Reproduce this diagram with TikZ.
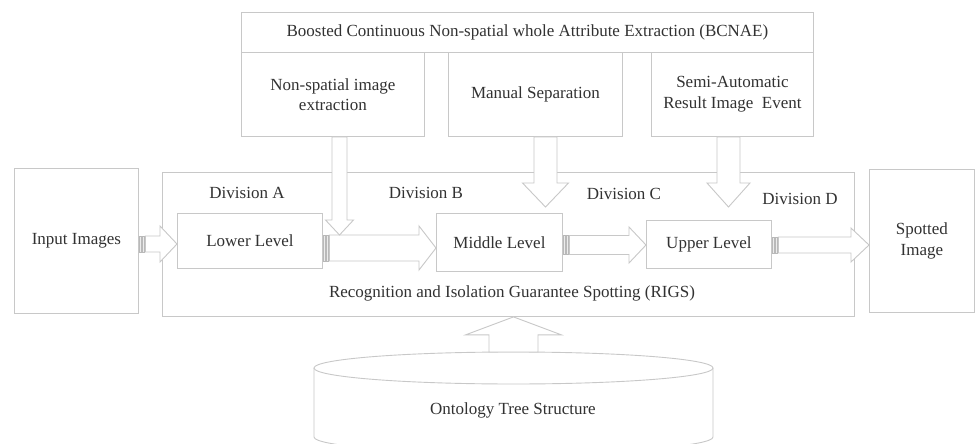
\documentclass[tikz,border=0pt]{standalone}
\usepackage{fontspec}
\setmainfont{Liberation Serif}
\usetikzlibrary{calc}

\definecolor{edgegray}{RGB}{200,200,200}
\definecolor{stripegray}{RGB}{185,185,185}
\definecolor{textgray}{RGB}{50,50,50}

\tikzset{
  diagfont/.style={font=\fontsize{17}{20.5}\selectfont, text=textgray},
  box/.style={draw=edgegray, line width=0.9pt, fill=white, diagfont,
              align=center, inner sep=0pt, anchor=north west},
  caption/.style={diagfont, inner sep=0pt, align=center},
  blockarrow/.style={draw=edgegray, line width=0.9pt, fill=white, line join=miter},
  stripe/.style={draw=stripegray, line width=0.5pt, fill=edgegray!35},
}

% horizontal striped block arrow: start, tip, shaft half-height, head half-height, head length
\newcommand\hstripe[5]{%
  \path[blockarrow] let \p1=(#1), \p2=(#2) in
    (\x1+6.5pt,\y1+#3) -- (\x2-#5,\y1+#3) -- (\x2-#5,\y1+#4)
      -- (\x2,\y1) -- (\x2-#5,\y1-#4) -- (\x2-#5,\y1-#3) -- (\x1+6.5pt,\y1-#3) -- cycle;
  \path[stripe] let \p1=(#1) in
    (\x1+0.8pt,\y1-#3) rectangle (\x1+2.4pt,\y1+#3)
    (\x1+3.6pt,\y1-#3) rectangle (\x1+5.2pt,\y1+#3);}

% vertical block arrow: start, tip, shaft half-width, head half-width, signed head length
\newcommand\vblock[5]{%
  \path[blockarrow] let \p1=(#1), \p2=(#2) in
    (\x1-#3,\y1) -- (\x2-#3,\y2+#5) -- (\x2-#4,\y2+#5) -- (\x2,\y2)
      -- (\x2+#4,\y2+#5) -- (\x2+#3,\y2+#5) -- (\x1+#3,\y1) -- cycle;}

\begin{document}
\begin{tikzpicture}[x=1pt,y=-1pt]
\useasboundingbox (0,0) rectangle (975,444);
\fill[white] (0,0) rectangle (975,444);

% outer RIGS frame
\node[box, minimum width=692pt, minimum height=144pt] (rigs) at (162,172) {};

% BCNAE block and its three parts
\node[box, minimum width=572pt, minimum height=40pt] (bcnae) at (241,12)
  {Boosted Continuous Non-spatial whole Attribute Extraction (BCNAE)};
\node[box, minimum width=183pt, minimum height=84pt] (nonsp) at (241,52)
  {Non-spatial image\\extraction};
\node[box, minimum width=174pt, minimum height=84pt] (manual) at (448,52)
  {Manual Separation};
\node[box, minimum width=162pt, minimum height=84pt] (semi) at (651,52)
  {Semi-Automatic\\Result Image\ \ Event};

% input / output
\node[box, minimum width=124pt, minimum height=145pt] (input) at (14,168) {Input Images};
\node[box, minimum width=105pt, minimum height=143pt] (spotted) at (869,169) {Spotted\\Image};

% levels
\node[box, minimum width=145pt, minimum height=55pt] (lower) at (177,213) {Lower Level};
\node[box, minimum width=126pt, minimum height=58pt] (middle) at (436,213) {Middle Level};
\node[box, minimum width=125pt, minimum height=48pt] (upper) at (646,220) {Upper Level};

% ontology store
\coordinate (cyltop) at (513.5,352);
\path[draw=edgegray, line width=0.9pt, fill=white]
  (314,368) -- (314,437) arc[start angle=180, end angle=360, x radius=199.5pt, y radius=16pt]
  -- (713,368);
\draw[edgegray, line width=0.9pt, fill=white] (513.5,368) ellipse[x radius=199.5pt, y radius=16pt];
\node[caption] (onto) at (513,410) {Ontology Tree Structure};

% arrow tips
\coordinate (tipA) at (339.5,235);
\coordinate (tipB) at (545.5,207);
\coordinate (tipC) at (728.5,207);

% flow along the levels
\hstripe{input.east |- 0,244}{lower.west |- 0,244}{8pt}{18pt}{17pt}
\hstripe{lower.east |- 0,248}{middle.west |- 0,248}{13pt}{22pt}{17pt}
\hstripe{middle.east |- 0,245}{upper.west |- 0,245}{9.5pt}{18pt}{17pt}
\hstripe{upper.east |- 0,245}{spotted.west |- 0,245}{8pt}{17pt}{18pt}

% BCNAE inputs into the divisions
\vblock{nonsp.south -| tipA}{tipA}{7.5pt}{14pt}{15pt}
\vblock{manual.south -| tipB}{tipB}{11.5pt}{23pt}{24pt}
\vblock{semi.south -| tipC}{tipC}{11.5pt}{21.5pt}{24pt}

% ontology feeding RIGS
\vblock{cyltop}{rigs.south -| cyltop}{24.5pt}{48pt}{-18pt}

% labels inside RIGS
\node[caption] (divA) at (247,193) {Division A};
\node[caption] (divB) at (426,193) {Division B};
\node[caption] (divC) at (624,194) {Division C};
\node[caption] (divD) at (800,199) {Division D};
\node[caption] (rigslabel) at (512,293) {Recognition and Isolation Guarantee Spotting (RIGS)};
\end{tikzpicture}
\end{document}
